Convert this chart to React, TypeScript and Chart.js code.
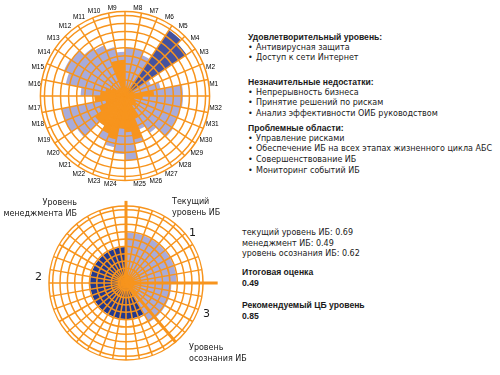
import React, { useEffect, useRef } from 'react';
import { Chart, registerables } from 'chart.js';

Chart.register(...registerables);

const ORANGE = '#F7941D';
const LIGHT = '#A8ABDA';
const DARK_TOP = '#45529E';
const DARK_BOTTOM = '#22398F';
const FONT = '"DejaVu Sans", "Liberation Sans", sans-serif';
const BOLD_FONT = '"Liberation Sans", Arial, sans-serif';

// ---- top chart data (M1 at east, counter-clockwise) ----
const topCategories = [
  'M1', 'M2', 'M3', 'M4', 'M5', 'M6', 'M7', 'M8', 'M9', 'M10', 'M11', 'M12', 'M13', 'M14', 'M15', 'M16',
  'M17', 'M18', 'M19', 'M20', 'M21', 'M22', 'M23', 'M24', 'M25', 'M26', 'M27', 'M28', 'M29', 'M30', 'M31', 'M32',
];
const topOrange = [
  0.36, 0.12, 0.1, 0, 0, 0.1, 0.1, 0.12, 0.45, 0.45, 0.12, 0.12, 0.12, 0.18, 0.25, 0.3,
  0.38, 0.25, 0.35, 0.45, 0.45, 0.5, 0.55, 0.4, 0.45, 0.55, 0.3, 0.15, 0.18, 0.15, 0.12, 0.22,
];
const topLight = [
  0.72, 0.45, 0.35, 0, 0, 0.55, 0.6, 0.6, 0.55, 0.62, 0.68, 0.72, 0.8, 0.82, 0.75, 0.55,
  0, 0.8, 0.8, 0.72, 0.45, 0.6, 0.65, 0.72, 0.8, 0.6, 0.45, 0.55, 0.72, 0.7, 0.7, 0.72,
];
const topDark = [
  0, 0, 0, 0.92, 0.98, 0, 0, 0, 0, 0, 0, 0, 0, 0, 0, 0,
  0, 0, 0, 0, 0, 0, 0, 0, 0, 0, 0, 0, 0, 0, 0, 0,
];

// ---- bottom chart data (clockwise from 12 o'clock) ----
const bottomRegions = ['Текущий уровень ИБ', 'Уровень осознания ИБ', 'Уровень менеджмента ИБ'];
const bottomValues = [0.69, 0.62, 0.49];
const bottomSpans = [90, 60, 210];
const bottomColors = [LIGHT, LIGHT, DARK_BOTTOM];
const bottomDivisions = 36;
const bottomAxisAngles = [0, 90, 140];
const bottomAxisReach = [1.12, 1.25, 1.06];

const ringTicks = [0, 0.1, 0.2, 0.3, 0.4, 0.5, 0.6, 0.7, 0.8, 0.9, 1.0, 1.05];

// Chart.js draws clockwise from the top; M8 is the first sector clockwise from 12 o'clock.
const n = topCategories.length;
const displayOrder = topCategories.map((_, i) => (7 - i + n) % n);
const pick = (arr: any[]) => displayOrder.map((k) => arr[k]);

const setTicks = (s: any) => {
  s.ticks = ringTicks.map((v) => ({ value: v }));
};

function TopChart() {
  const ref = useRef<HTMLCanvasElement>(null);
  useEffect(() => {
    const chart = new Chart(ref.current as HTMLCanvasElement, {
      type: 'polarArea',
      data: {
        labels: pick(topCategories),
        datasets: [
          { data: pick(topOrange), backgroundColor: ORANGE, borderWidth: 0 },
          { data: pick(topDark), backgroundColor: DARK_TOP, borderWidth: 0 },
          { data: pick(topLight), backgroundColor: LIGHT, borderWidth: 0 },
        ],
      },
      options: {
        animation: false,
        responsive: false,
        maintainAspectRatio: false,
        plugins: { legend: { display: false }, tooltip: { enabled: false } },
        layout: { padding: 0 },
        scales: {
          r: {
            min: 0,
            max: 1.05,
            startAngle: 0,
            afterBuildTicks: setTicks,
            grid: { circular: true, color: ORANGE, lineWidth: 1.5, z: 1 },
            angleLines: { display: true, color: ORANGE, lineWidth: 1.5 },
            ticks: { display: false },
            pointLabels: {
              display: true,
              centerPointLabels: true,
              padding: 0,
              color: '#000',
              font: { size: 6.5, family: '"Liberation Sans", Arial, sans-serif' },
            },
          },
        },
      } as any,
    });
    return () => chart.destroy();
  }, []);
  return (
    <canvas
      ref={ref}
      width={196}
      height={184}
      style={{ position: 'absolute', left: 28, top: 5, width: 196, height: 184 }}
    />
  );
}

const axisLinesPlugin = {
  id: 'axisLines',
  afterDraw(chart: any) {
    const s = chart.scales.r;
    const ctx = chart.ctx;
    ctx.save();
    ctx.strokeStyle = ORANGE;
    ctx.lineWidth = 3;
    bottomAxisAngles.forEach((deg, i) => {
      const idx = Math.round((deg / 360) * bottomDivisions);
      const p = s.getPointPositionForValue(idx, bottomAxisReach[i]);
      ctx.beginPath();
      ctx.moveTo(s.xCenter, s.yCenter);
      ctx.lineTo(p.x, p.y);
      ctx.stroke();
    });
    ctx.restore();
  },
};

function BottomChart() {
  const ref = useRef<HTMLCanvasElement>(null);
  useEffect(() => {
    const chart = new Chart(ref.current as HTMLCanvasElement, {
      type: 'polarArea',
      data: {
        labels: Array.from({ length: bottomDivisions }, () => ''),
        datasets: [
          {
            label: bottomRegions.join(', '),
            data: bottomValues,
            backgroundColor: bottomColors,
            borderWidth: 0,
            angle: (ctx: any) => bottomSpans[ctx.dataIndex],
          } as any,
        ],
      },
      options: {
        animation: false,
        responsive: false,
        maintainAspectRatio: false,
        plugins: { legend: { display: false }, tooltip: { enabled: false } },
        layout: { padding: 23 },
        scales: {
          r: {
            min: 0,
            max: 1.05,
            startAngle: 0,
            afterBuildTicks: setTicks,
            grid: { circular: true, color: ORANGE, lineWidth: 1.5, z: 1 },
            angleLines: { display: true, color: ORANGE, lineWidth: 1.5 },
            ticks: { display: false },
            pointLabels: { display: false },
          },
        },
      } as any,
      plugins: [axisLinesPlugin],
    });
    return () => chart.destroy();
  }, []);
  return (
    <canvas
      ref={ref}
      width={200}
      height={200}
      style={{ position: 'absolute', left: 26, top: 183, width: 200, height: 200 }}
    />
  );
}

const txt = (extra: any) => ({
  position: 'absolute' as const,
  fontFamily: FONT,
  fontSize: 8,
  lineHeight: '10.7px',
  color: '#1a1a1a',
  whiteSpace: 'nowrap' as const,
  ...extra,
});

const boldStyle = { fontWeight: 'bold', fontFamily: BOLD_FONT, fontSize: 8.6 };

function Block({ top, left, title, items }: { top: number; left: number; title: string; items: string[] }) {
  return (
    <div style={txt({ top, left })}>
      <div style={boldStyle}>{title}</div>
      {items.map((it) => (
        <div key={it}>
          <span style={{ display: 'inline-block', width: 8 }}>•</span>
          {it}
        </div>
      ))}
    </div>
  );
}

export default function App() {
  return (
    <div style={{ position: 'absolute', left: 0, top: 0, width: 500, height: 375, background: '#fff', overflow: 'hidden' }}>
      <TopChart />
      <BottomChart />
      <Block top={32} left={248} title="Удовлетворительный уровень:" items={['Антивирусная защита', 'Доступ к сети Интернет']} />
      <Block
        top={77}
        left={248}
        title="Незначительные недостатки:"
        items={['Непрерывность бизнеса', 'Принятие решений по рискам', 'Анализ эффективности ОИБ руководством']}
      />
      <Block
        top={123}
        left={248}
        title="Проблемные области:"
        items={['Управление рисками', 'Обеспечение ИБ на всех этапах жизненного цикла АБС', 'Совершенствование ИБ', 'Мониторинг событий ИБ']}
      />
      <div style={txt({ top: 228, left: 242 })}>
        <div>текущий уровень ИБ: 0.69</div>
        <div>менеджмент ИБ: 0.49</div>
        <div>уровень осознания ИБ: 0.62</div>
      </div>
      <div style={txt({ top: 267, left: 242, ...boldStyle })}>
        <div>Итоговая оценка</div>
        <div>0.49</div>
      </div>
      <div style={txt({ top: 300, left: 242, ...boldStyle })}>
        <div>Рекомендуемый ЦБ уровень</div>
        <div>0.85</div>
      </div>
      <div style={txt({ top: 198, left: 0, width: 77, textAlign: 'right' })}>
        <div>Уровень</div>
        <div>менеджмента ИБ</div>
      </div>
      <div style={txt({ top: 197, left: 172 })}>
        <div>Текущий</div>
        <div>уровень ИБ</div>
      </div>
      <div style={txt({ top: 343, left: 189 })}>
        <div>Уровень</div>
        <div>осознания ИБ</div>
      </div>
      <div style={txt({ top: 226, left: 189, fontSize: 11, lineHeight: '14px' })}>1</div>
      <div style={txt({ top: 270, left: 35, fontSize: 11, lineHeight: '14px' })}>2</div>
      <div style={txt({ top: 307, left: 203, fontSize: 11, lineHeight: '14px' })}>3</div>
    </div>
  );
}
